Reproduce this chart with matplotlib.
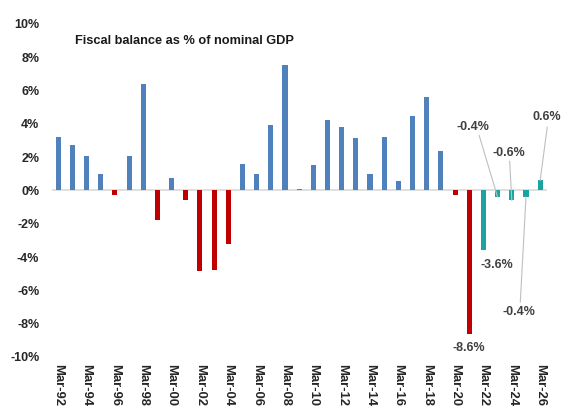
import matplotlib.pyplot as plt
import numpy as np

plt.rcParams['font.family'] = ['Liberation Sans', 'DejaVu Sans']

years = ['92', '93', '94', '95', '96', '97', '98', '99', '00', '01', '02', '03',
         '04', '05', '06', '07', '08', '09', '10', '11', '12', '13', '14', '15',
         '16', '17', '18', '19', '20', '21', '22', '23', '24', '25', '26']
balance = [3.2, 2.7, 2.07, 1.0, -0.3, 2.07, 6.37, -1.8, 0.75, -0.6, -4.85, -4.8,
           -3.2, 1.6, 0.96, 3.9, 7.55, 0.1, 1.55, 4.2, 3.8, 3.17, 1.0, 3.23,
           0.55, 4.47, 5.64, 2.37, -0.3, -8.6, -3.6, -0.4, -0.6, -0.4, 0.6]
first_forecast = 30  # Mar-22 onwards

labels = ['Mar-' + y for y in years]
x = np.arange(len(balance))

colors = []
for i, v in enumerate(balance):
    if i >= first_forecast:
        colors.append('#1AA3A3')
    elif v < 0:
        colors.append('#C00000')
    else:
        colors.append('#4F81BD')

fig = plt.figure(figsize=(5.63, 4.12), dpi=100)
ax = fig.add_axes([0.092, 0.1335, 0.88, 0.8085])

ax.bar(x, balance, width=0.36, color=colors)
ax.axhline(0, color='#D9D9D9', lw=1.2, zorder=0)

ax.set_xlim(-0.45, 34.5)
ax.set_ylim(-10, 10)
ax.set_yticks(np.arange(-10, 11, 2))
ax.set_yticklabels([f'{v}%' for v in range(-10, 11, 2)], fontsize=9,
                   fontweight='bold', color='#262626')
ax.set_xticks(x[::2])
ax.set_xticklabels(labels[::2], rotation=270, fontsize=9.4, fontweight='bold',
                   color='#262626')
ax.tick_params(axis='both', length=0)
ax.tick_params(axis='y', pad=9)
ax.tick_params(axis='x', pad=5)
for s in ax.spines.values():
    s.set_visible(False)

ax.text(1.2, 8.95, 'Fiscal balance as % of nominal GDP', fontsize=9.2,
        fontweight='bold', color='#1a1a1a', va='center')

lab_style = dict(fontsize=9, fontweight='bold', color='#404040',
                 ha='center', va='center')
ax.text(29, -9.45, '-8.6%', **lab_style)
ax.text(30.95, -4.45, '-3.6%', **lab_style)
# (bar index, label x, label y, leader start x, leader start y)
notes = [(31, 29.25, 3.8, 29.7, 3.3),
         (32, 31.8, 2.25, 31.85, 1.75),
         (33, 32.5, -7.3, 32.6, -6.7),
         (34, 34.45, 4.4, 34.5, 3.8)]
for i, tx, ty, lx, ly in notes:
    ax.text(tx, ty, f'{balance[i]:.1f}%', **lab_style)
    ax.plot([lx, x[i]], [ly, balance[i]], color='#BFBFBF', lw=0.8, clip_on=False)

fig.savefig('out.png', dpi=100)
